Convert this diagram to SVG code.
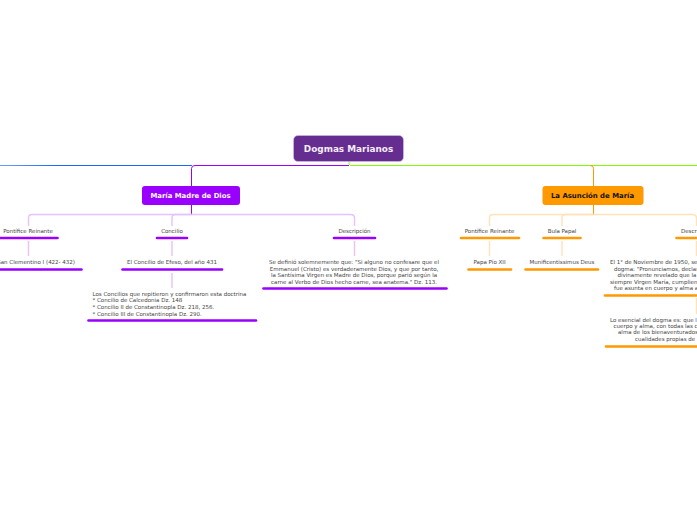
<svg xmlns="http://www.w3.org/2000/svg" width="697" height="520" viewBox="0 0 697 520">
<style>
text{font-family:"DejaVu Sans",Verdana,sans-serif;text-anchor:middle}
.t{font-size:5.5px;fill:#444}
.l{text-anchor:start}
.e{text-anchor:end}
.m{font-size:6.9px;font-weight:700}
.c{fill:none;stroke-width:1}
.pl{stroke:#e6c2ff;stroke-width:1.400}
.ol{stroke:#ffe2b8;stroke-width:1.400}
.pu{stroke:#9900ff;stroke-width:2.600;stroke-linecap:round;fill:none}
.or{stroke:#ff9900;stroke-width:2.600;stroke-linecap:round;fill:none}
</style>
<defs><linearGradient id="bl" x1="0" x2="1" y1="0" y2="0"><stop offset="0" stop-color="#66a3ff"/><stop offset=".3" stop-color="#1a66ff"/></linearGradient></defs>
<rect width="697" height="520" fill="#fff"/>
<g id="connectors">
<rect x="0" y="165" width="192" height="1" fill="url(#bl)"/>
<path class="c" stroke="#9900ff" d="M349 165.500H195Q191.500 165.500 191.500 168.500V186"/>
<path class="c" stroke="#80ff00" d="M349 161V163.500Q349 165.500 351 165.500H697"/>
<path class="c" stroke="#ff9900" d="M590 165.500Q593.500 165.500 593.500 168.500V186"/>
<path class="c" stroke="#9900ff" d="M191.500 205V215"/>
<path class="c pl" d="M191.500 214.500H32Q28.500 214.500 28.500 218V226M28.500 241V256"/>
<path class="c pl" d="M191.500 214.500H175.500Q172 214.500 172 218V226M172 241V256M172 273V288"/>
<path class="c pl" d="M191.500 214.500H350.500Q354.500 214.500 354.500 218V226M354.500 241V256"/>
<path class="c" stroke="#ff9900" d="M593.500 205V215"/>
<path class="c ol" d="M593.500 214.500H493Q489.500 214.500 489.500 218V226M489.500 241V256"/>
<path class="c ol" d="M593.500 214.500H565.500Q562 214.500 562 218V226M562 241V256"/>
<path class="c ol" d="M593.500 214.500H692Q696.500 214.500 696.500 218V226M696.500 241V256M696.500 298V314"/>
</g>
<g id="root"><rect x="293.500" y="135.500" width="110" height="26" rx="4.500" fill="#662d91" stroke="#d9c8e8" stroke-width=".5"/><text x="348.500" y="152" font-size="8.900" font-weight="700" fill="#f4eef8">Dogmas Marianos</text></g>
<g id="maria"><rect x="142" y="186" width="98" height="19" rx="3" fill="#9900ff"/><text class="m" x="190.500" y="198" fill="#fff">María Madre de Dios</text></g>
<g id="asuncion"><rect x="542.500" y="186" width="101" height="19" rx="3" fill="#ff9900"/><text class="m" x="592.500" y="198" fill="#111">La Asunción de María</text></g>
<g id="n1"><text class="t" x="28" y="233">Pontífice Reinante</text><path class="pu" d="M0 238H57.500"/></g>
<g id="n2"><text class="t" x="172" y="233">Concilio</text><path class="pu" d="M157 238H187"/></g>
<g id="n3"><text class="t" x="354.500" y="233">Descripción</text><path class="pu" d="M334 238H375"/></g>
<g id="n4"><text class="t e" x="75" y="264">San Clementino I (422- 432)</text><path class="pu" d="M0 269.500H81.500"/></g>
<g id="n5"><text class="t" x="172" y="264">El Concilio de Efeso, del año 431</text><path class="pu" d="M122.500 269.500H222"/></g>
<g id="n6"><text class="t l" x="92.500" y="296">Los Concilios que repitieron y confirmaron esta doctrina</text><text class="t l" x="92.500" y="302">* Concilio de Calcedonia Dz. 148</text><text class="t l" x="92.500" y="309">* Concilio II de Constantinopla Dz. 218, 256.</text><text class="t l" x="92.500" y="315.500">* Concilio III de Constantinopla Dz. 290.</text><path class="pu" d="M88.500 320.500H256"/></g>
<g id="n7"><text class="t" x="354" y="264">Se definió solemnemente que: "Si alguno no confesare que el</text><text class="t" x="354" y="270.500">Emmanuel (Cristo) es verdaderamente Dios, y que por tanto,</text><text class="t" x="354" y="277">la Santísima Virgen es Madre de Dios, porque parió según la</text><text class="t" x="354" y="283.500">carne al Verbo de Dios hecho carne, sea anatema." Dz. 113.</text><path class="pu" d="M263.500 288.500H446.500"/></g>
<g id="n8"><text class="t" x="489.500" y="233">Pontífice Reinante</text><path class="or" d="M461 238H519"/></g>
<g id="n9"><text class="t" x="562" y="233">Bula Papal</text><path class="or" d="M543.500 238H580.500"/></g>
<g id="n10"><text class="t l" x="681" y="233">Descripción</text><path class="or" d="M676.500 238H697"/></g>
<g id="n11"><text class="t" x="489.500" y="264">Papa Pío XII</text><path class="or" d="M468.500 269.500H511"/></g>
<g id="n12"><text class="t" x="562" y="264">Munificentissimus Deus</text><path class="or" d="M525.500 269.500H598"/></g>
<g id="n13"><text class="t l" x="610" y="264">El 1° de Noviembre de 1950, se</text><text class="t l" x="614" y="270.500">dogma: "Pronunciamos, declar</text><text class="t l" x="617.500" y="277">divinamente revelado que la</text><text class="t l" x="610" y="283.500">siempre Virgen María, cumplien</text><text class="t l" x="614" y="290">fue asunta en cuerpo y alma a</text><path class="or" d="M605 295.500H697"/></g>
<g id="n14"><text class="t l" x="610" y="322">Lo esencial del dogma es: que l</text><text class="t l" x="613.500" y="328">cuerpo y alma, con todas las c</text><text class="t l" x="618" y="334">alma de los bienaventurados</text><text class="t l" x="635" y="340.500">cualidades propias de</text><path class="or" d="M606 346.500H697"/></g>
</svg>
